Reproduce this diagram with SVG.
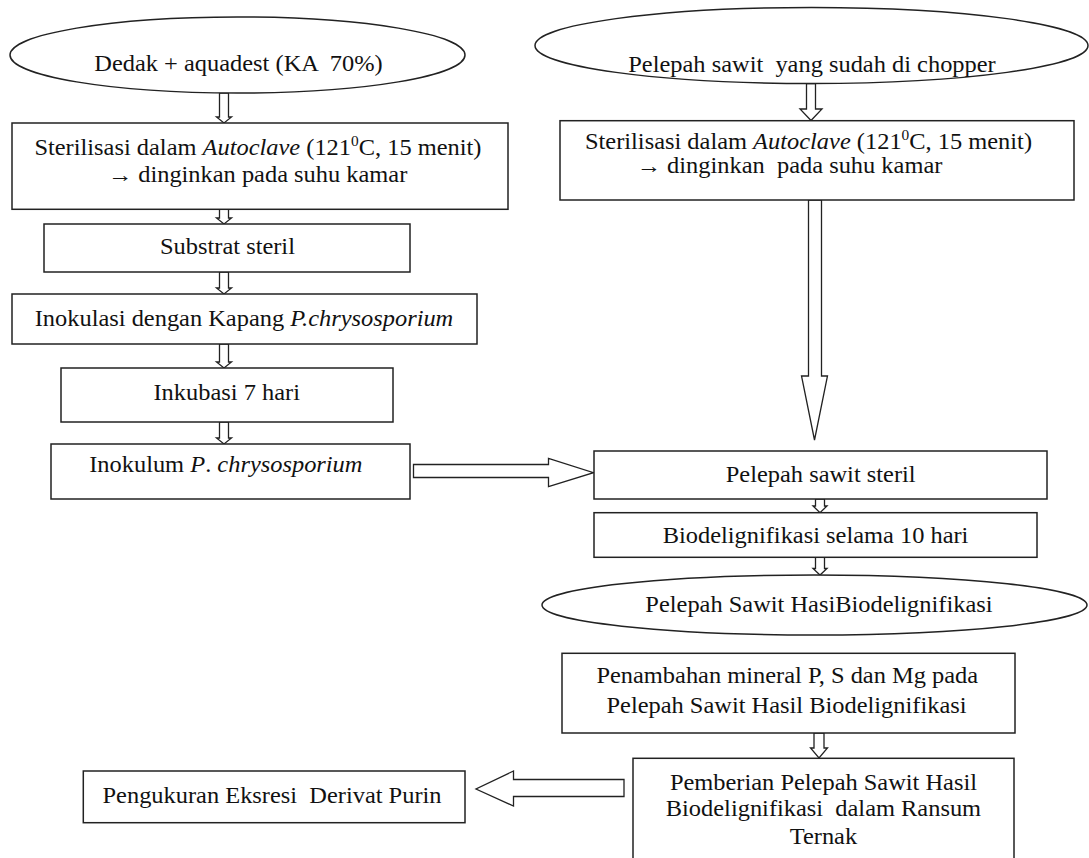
<svg xmlns="http://www.w3.org/2000/svg" width="1089" height="858" viewBox="0 0 1089 858">
<style>
.b{fill:#fff;stroke:#222;stroke-width:1.5}
.a{fill:#fff;stroke:#222;stroke-width:1.3;stroke-linejoin:miter}
.t{font-size:22.2px;fill:#111;text-anchor:middle;white-space:pre}
.i{font-style:italic}
.s{font-size:14px}
</style>
<rect width="1089" height="858" fill="#fff"/>
<g id="connectors">
<polygon class="a" points="219.5,93 228.5,93 228.5,117 231.5,117 224,123 216.5,117 219.5,117"/>
<polygon class="a" points="219.5,209 228.5,209 228.5,218 231.5,218 224,224 216.5,218 219.5,218"/>
<polygon class="a" points="219.5,272 228.5,272 228.5,288 231.5,288 224,294 216.5,288 219.5,288"/>
<polygon class="a" points="219.5,344 228.5,344 228.5,362 231.5,362 224,368 216.5,362 219.5,362"/>
<polygon class="a" points="219.5,422 228.5,422 228.5,438 231.5,438 224,444 216.5,438 219.5,438"/>
<polygon class="a" points="806.5,83.5 815.5,83.5 815.5,109 822,109 811,120.5 800,109 806.5,109"/>
<polygon class="a" points="808.5,200 821.5,200 821.5,376 827.5,376 814.5,440 801.5,376 808.5,376"/>
<polygon class="a" points="413.5,464.5 548.5,464.5 548.5,458.5 593.5,472.7 548.5,486.7 548.5,477.5 413.5,477.5"/>
<polygon class="a" points="815.5,499 824.5,499 824.5,506 827,506 820,512.7 813,506 815.5,506"/>
<polygon class="a" points="815.5,557.3 824.5,557.3 824.5,568.5 827,568.5 820,575 813,568.5 815.5,568.5"/>
<polygon class="a" points="814,733 824,733 824,748 827.5,748 819,758 810.5,748 814,748"/>
<polygon class="a" points="624,779.5 624,796.5 513.5,796.5 513.5,806 476,789 513.5,771 513.5,779.5"/>
</g>
<g font-family="'Liberation Serif', 'DejaVu Serif', serif">
<g id="n1">
<ellipse class="b" cx="237.5" cy="55" rx="227.5" ry="38"/>
<text class="t" transform="scale(1.1 1)" x="216.8" y="70.7">Dedak + aquadest (KA  70%)</text>
</g>
<g id="n2">
<rect class="b" x="12" y="123" width="496" height="86.3"/>
<text class="t" transform="scale(1.1 1)" x="234.5" y="155">Sterilisasi dalam <tspan class="i">Autoclave</tspan> (121<tspan class="s" dy="-9">0</tspan><tspan dy="9">C, 15 menit)</tspan></text>
<text class="t" transform="scale(1.1 1)" x="234.1" y="181.7">→ dinginkan pada suhu kamar</text>
</g>
<g id="n3">
<rect class="b" x="44" y="224" width="366" height="48"/>
<text class="t" transform="scale(1.1 1)" x="206.8" y="254">Substrat steril</text>
</g>
<g id="n4">
<rect class="b" x="12" y="294" width="465" height="50"/>
<text class="t" transform="scale(1.1 1)" x="221.8" y="326">Inokulasi dengan Kapang <tspan class="i">P.chrysosporium</tspan></text>
</g>
<g id="n5">
<rect class="b" x="61" y="368" width="332" height="54"/>
<text class="t" transform="scale(1.1 1)" x="206.1" y="400">Inkubasi 7 hari</text>
</g>
<g id="n6">
<rect class="b" x="51" y="444" width="359" height="55"/>
<text class="t" transform="scale(1.1 1)" x="205.3" y="471.7">Inokulum <tspan class="i">P</tspan>. <tspan class="i">chrysosporium</tspan></text>
</g>
<g id="n7">
<ellipse class="b" cx="811.5" cy="45.5" rx="276.5" ry="38"/>
<text class="t" transform="scale(1.1 1)" x="738.2" y="71.7">Pelepah sawit  yang sudah di chopper</text>
</g>
<g id="n8">
<rect class="b" x="560" y="120.7" width="514" height="79.3"/>
<text class="t" transform="scale(1.1 1)" x="735" y="149">Sterilisasi dalam <tspan class="i">Autoclave</tspan> (121<tspan class="s" dy="-9">0</tspan><tspan dy="9">C, 15 menit)</tspan></text>
<text class="t" transform="scale(1.1 1)" x="717.7" y="173.3">→ dinginkan  pada suhu kamar</text>
</g>
<g id="n9">
<rect class="b" x="594" y="451" width="453" height="48"/>
<text class="t" transform="scale(1.1 1)" x="746.1" y="481.7">Pelepah sawit steril</text>
</g>
<g id="n10">
<rect class="b" x="594" y="512.7" width="443" height="44.6"/>
<text class="t" transform="scale(1.1 1)" x="741.4" y="543.3">Biodelignifikasi selama 10 hari</text>
</g>
<g id="n11">
<ellipse class="b" cx="814.5" cy="605" rx="272.5" ry="30"/>
<text class="t" transform="scale(1.1 1)" x="744.5" y="611.7">Pelepah Sawit HasiBiodelignifikasi</text>
</g>
<g id="n12">
<rect class="b" x="562" y="653.3" width="453" height="79.7"/>
<text class="t" transform="scale(1.1 1)" x="715.7" y="682.7">Penambahan mineral P, S dan Mg pada</text>
<text class="t" transform="scale(1.1 1)" x="715" y="712.7">Pelepah Sawit Hasil Biodelignifikasi</text>
</g>
<g id="n13">
<rect class="b" x="633" y="758.3" width="381" height="112"/>
<text class="t" transform="scale(1.1 1)" x="748.6" y="790">Pemberian Pelepah Sawit Hasil</text>
<text class="t" transform="scale(1.1 1)" x="748.6" y="816.5">Biodelignifikasi  dalam Ransum</text>
<text class="t" transform="scale(1.1 1)" x="748.6" y="844.5">Ternak</text>
</g>
<g id="n14">
<rect class="b" x="83.3" y="771" width="381.7" height="51.7"/>
<text class="t" transform="scale(1.1 1)" x="247.3" y="802.7">Pengukuran Eksresi  Derivat Purin</text>
</g>
</g>
</svg>
